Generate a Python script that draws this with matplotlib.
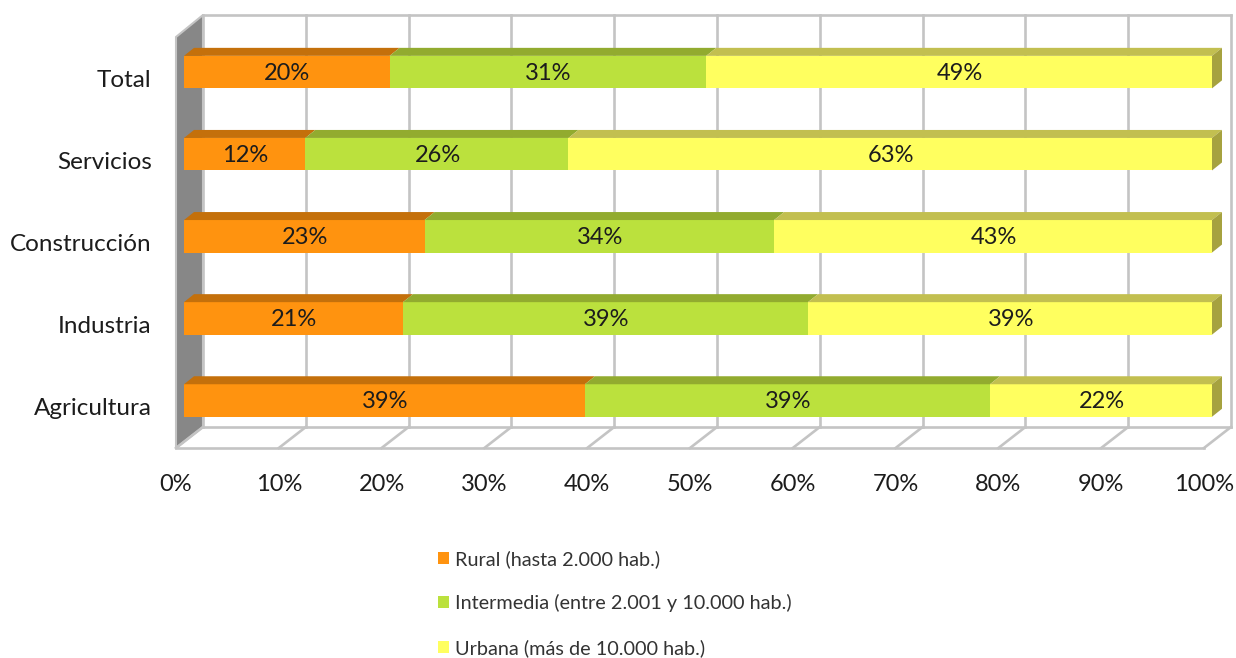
import matplotlib
matplotlib.use('Agg')
import matplotlib.pyplot as plt
from matplotlib.patches import Polygon, Patch

categories = ['Agricultura', 'Industria', 'Construcción', 'Servicios', 'Total']
rural = [39.0, 21.3, 23.4, 11.8, 20.0]
intermedia = [39.4, 39.4, 34.0, 25.6, 30.8]
urbana = [21.6, 39.3, 42.6, 62.6, 49.2]
series_names = ['Rural (hasta 2.000 hab.)', 'Intermedia (entre 2.001 y 10.000 hab.)', 'Urbana (más de 10.000 hab.)']
pct_ticks = list(range(0, 101, 10))

# face, top, side colours per series
face_cols = ['#FF930F', '#BBE13D', '#FFFF5F']
top_cols = ['#C4700B', '#92AB2F', '#C2BF50']
side_col = '#A6A23F'
grid_col = '#C4C4C4'
wall_col = '#878787'
text_col = '#1C1C1C'

W, H = 1236, 658
PX_X = 10.28   # pixels per percent
PX_Y = 82.1    # pixels per category
bar_h = 32.5 / PX_Y

# 3d box, in data units
front_x = -8 / PX_X
back_x = 19 / PX_X
floor_front = -47.5 / PX_Y
floor_back = -26.5 / PX_Y
wall_top = (400.5 - 15) / PX_Y
wall_front_top = (400.5 - 37) / PX_Y
bar_dx = 10 / PX_X
bar_dy = 8 / PX_Y

plt.rcParams['font.family'] = ['Lato', 'DejaVu Sans']

fig = plt.figure(figsize=(W / 100, H / 100), dpi=100)
left, right, top, bottom = 176, 1232, 14, 449
ax = fig.add_axes([left / W, 1 - bottom / H, (right - left) / W, (bottom - top) / H])
ax.set_xlim((left - 184) / PX_X, (right - 184) / PX_X)
ax.set_ylim((400.5 - bottom) / PX_Y, (400.5 - top) / PX_Y)
for s in ax.spines.values():
    s.set_visible(False)

# walls and grid
lw = 1.9
ax.add_patch(Polygon([(front_x, floor_front), (front_x, wall_front_top), (back_x, wall_top), (back_x, floor_back)],
                     facecolor=wall_col, edgecolor=grid_col, lw=1.5, zorder=1, clip_on=False))
for p in pct_ticks:
    ax.plot([p + back_x, p + back_x], [floor_back, wall_top], color=grid_col, lw=lw, zorder=1, clip_on=False)
    ax.plot([p + front_x, p + back_x], [floor_front, floor_back], color=grid_col, lw=lw, zorder=1, clip_on=False)
ax.plot([back_x, 100 + back_x], [wall_top, wall_top], color=grid_col, lw=lw, zorder=1, clip_on=False)
ax.plot([back_x, 100 + back_x], [floor_back, floor_back], color=grid_col, lw=lw, zorder=1, clip_on=False)
ax.plot([front_x, 100 + front_x], [floor_front, floor_front], color=grid_col, lw=lw, zorder=1, clip_on=False)

# stacked bars
ypos = list(range(len(categories)))
lefts = [0] * len(categories)
handles = []
for vals, name, fc, tc in zip([rural, intermedia, urbana], series_names, face_cols, top_cols):
    bars = ax.barh(ypos, vals, height=bar_h, left=lefts, color=fc, zorder=3, label=name)
    anns = ax.bar_label(bars, labels=[f'{v:.0f}%' for v in vals], label_type='center',
                        fontsize=17, color=text_col, zorder=5)
    for a in anns:
        a.xyann = (0.5, -1.0)
    for y, v, l in zip(ypos, vals, lefts):
        t = y + bar_h / 2
        ax.add_patch(Polygon([(l, t), (l + bar_dx, t + bar_dy), (l + v + bar_dx, t + bar_dy), (l + v, t)],
                             facecolor=tc, edgecolor='none', zorder=3))
    lefts = [l + v for l, v in zip(lefts, vals)]
    handles.append(Patch(facecolor=fc, label=name))

# right end of the bars
for y, l in zip(ypos, lefts):
    t, b = y + bar_h / 2, y - bar_h / 2
    ax.add_patch(Polygon([(l, t), (l + bar_dx, t + bar_dy), (l + bar_dx, b + bar_dy), (l, b)],
                         facecolor=side_col, edgecolor='none', zorder=3))

# axis labels sit on the front plane of the box
ax.set_xticks([p + front_x for p in pct_ticks])
ax.set_xticklabels([f'{p}%' for p in pct_ticks], fontsize=17, color=text_col)
ax.set_yticks([y - 6 / PX_Y for y in ypos])
ax.set_yticklabels(categories, fontsize=17.5, color=text_col)
ax.tick_params(axis='x', length=0, pad=18)
ax.tick_params(axis='y', length=0, pad=17.5)

fig.legend(handles=handles, loc='upper left', bbox_to_anchor=(438 / W, 1 - 550 / H), frameon=False,
           fontsize=14.3, labelspacing=1.33, handlelength=0.55, handleheight=0.55, handletextpad=0.32,
           borderpad=0, borderaxespad=0, labelcolor='#333333')

fig.savefig('out.png', dpi=100)
